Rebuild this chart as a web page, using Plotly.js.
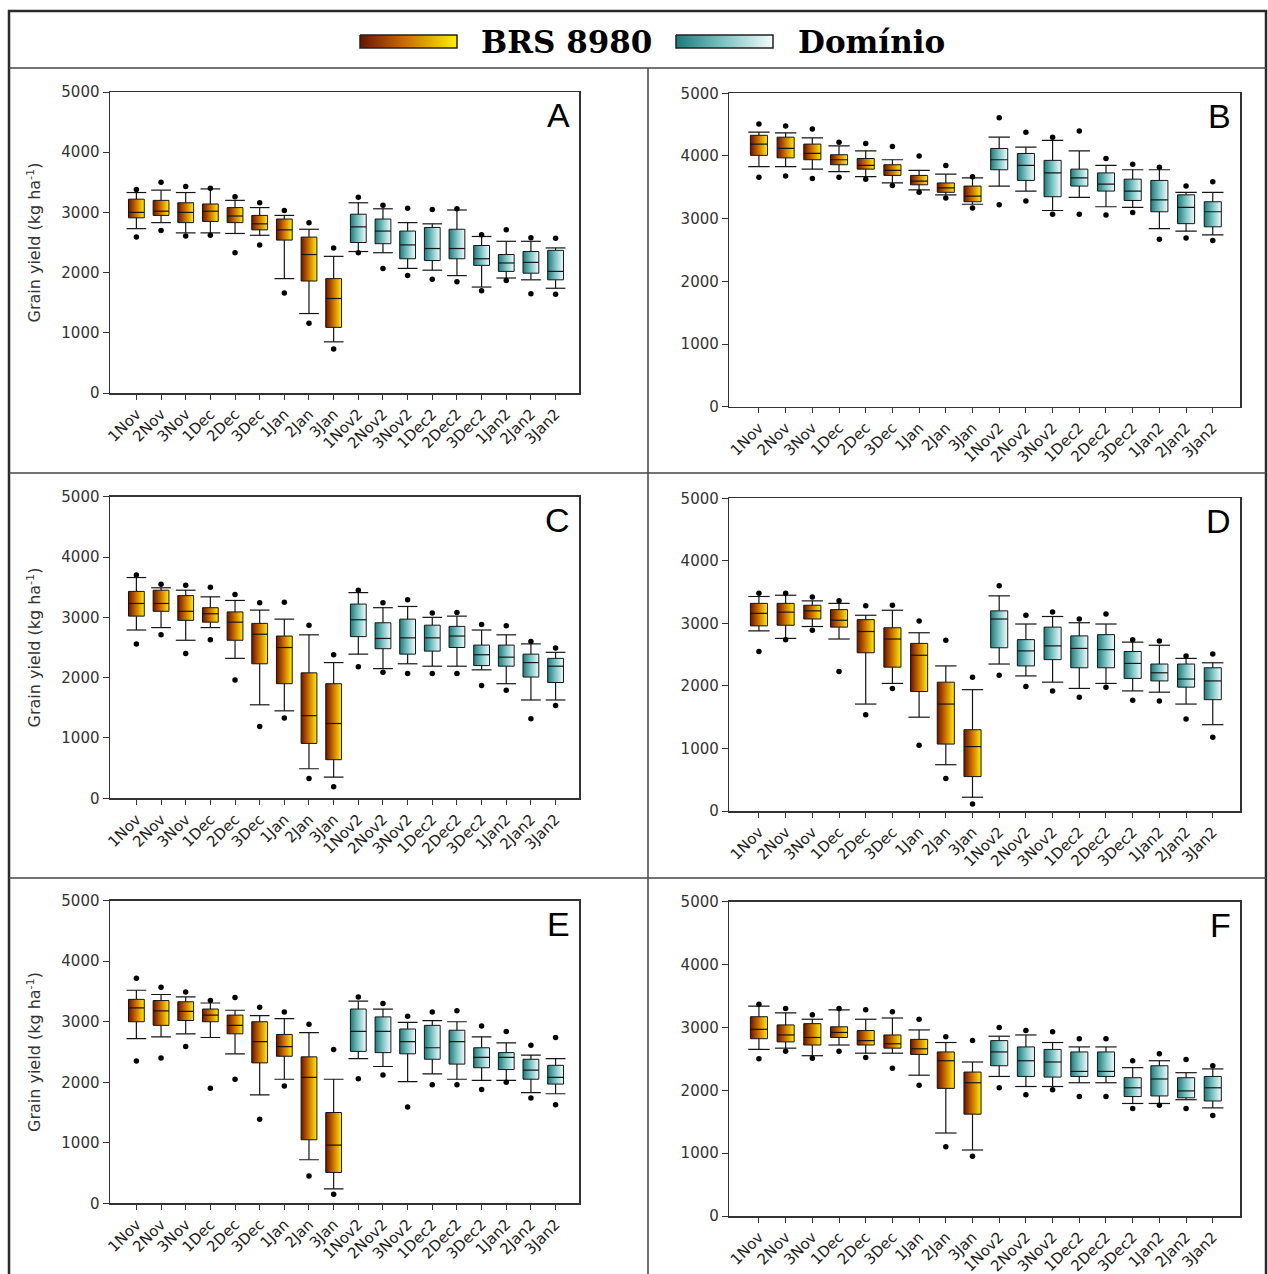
<!DOCTYPE html>
<html><head><meta charset="utf-8">
<script src="https://cdn.plot.ly/plotly-3.0.1.min.js"></script>
<style>html,body{margin:0;padding:0;background:#fff}#chart{width:1268px;height:1274px}</style>
</head><body><div id="chart"></div>
<script>
const categories = ['1Nov','2Nov','3Nov','1Dec','2Dec','3Dec','1Jan','2Jan','3Jan','1Nov2','2Nov2','3Nov2','1Dec2','2Dec2','3Dec2','1Jan2','2Jan2','3Jan2'];
const cultivar = ['BRS 8980','BRS 8980','BRS 8980','BRS 8980','BRS 8980','BRS 8980','BRS 8980','BRS 8980','BRS 8980','Domínio','Domínio','Domínio','Domínio','Domínio','Domínio','Domínio','Domínio','Domínio'];
const seriesNames = ['BRS 8980','Domínio'];
const yTicks = [0,1000,2000,3000,4000,5000];

// Panel A
const A_p95 = [3380,3500,3430,3400,3260,3160,3030,2830,2410, 3250,3120,3070,3050,3060,2630,2710,2580,2570];
const A_p90 = [3330,3370,3330,3390,3200,3080,2950,2720,2270, 3160,3060,2830,2810,3040,2600,2520,2520,2410];
const A_q3  = [3220,3200,3160,3140,3080,2950,2890,2590,1900, 2970,2890,2690,2750,2720,2450,2300,2350,2370];
const A_med = [3000,3020,3000,3020,2940,2810,2710,2300,1570, 2760,2690,2460,2400,2400,2230,2160,2170,2020];
const A_q1  = [2910,2950,2830,2850,2830,2710,2540,1860,1090, 2500,2480,2230,2200,2230,2120,2020,1990,1880];
const A_p10 = [2730,2830,2660,2660,2650,2620,1900,1320,850, 2350,2330,2070,2040,1950,1760,1910,1880,1740];
const A_p5  = [2590,2700,2610,2620,2330,2460,1660,1160,730, 2330,2070,1950,1890,1850,1700,1870,1650,1640];
// Panel B
const B_p95 = [4510,4480,4430,4220,4200,4150,4000,3850,3670, 4610,4380,4300,4400,3960,3870,3820,3520,3590];
const B_p90 = [4380,4370,4290,4160,4080,3940,3770,3710,3650, 4300,4140,4250,4080,3850,3780,3780,3420,3420];
const B_q3  = [4330,4300,4190,4020,3960,3860,3690,3570,3520, 4120,4040,3930,3790,3730,3630,3610,3380,3270];
const B_med = [4190,4120,4040,3940,3850,3770,3600,3490,3360, 3940,3850,3730,3650,3550,3440,3300,3180,3110];
const B_q1  = [4010,3970,3940,3860,3790,3690,3540,3420,3270, 3780,3610,3350,3520,3440,3290,3110,2920,2870];
const B_p10 = [3830,3830,3790,3750,3670,3570,3460,3380,3230, 3520,3440,3130,3340,3190,3180,2840,2800,2740];
const B_p5  = [3660,3680,3640,3660,3630,3530,3420,3330,3170, 3220,3280,3070,3070,3060,3100,2670,2690,2650];
// Panel C
const C_p95 = [3700,3550,3530,3500,3380,3240,3250,2870,2380, 3450,3240,3290,3070,3080,2880,2860,2600,2490];
const C_p90 = [3660,3490,3450,3340,3280,3120,2970,2710,2250, 3410,3160,3180,3000,3020,2790,2710,2560,2420];
const C_q3  = [3430,3450,3360,3160,3090,2900,2690,2080,1900, 3220,2910,2970,2870,2850,2540,2540,2390,2320];
const C_med = [3230,3230,3100,3060,2920,2720,2500,1370,1240, 2960,2650,2660,2660,2690,2380,2340,2250,2190];
const C_q1  = [3020,3100,2950,2920,2620,2230,1900,910,640, 2680,2480,2390,2440,2500,2200,2190,2010,1920];
const C_p10 = [2790,2830,2620,2830,2320,1550,1450,490,350, 2390,2150,2230,2190,2190,2130,1900,1630,1630];
const C_p5  = [2560,2710,2400,2630,1960,1190,1330,330,190, 2180,2090,2070,2070,2070,1870,1790,1320,1540];
// Panel D
const D_p95 = [3480,3480,3420,3360,3280,3290,3040,2730,2140, 3600,3130,3180,3070,3150,2740,2720,2480,2510];
const D_p90 = [3430,3450,3360,3320,3130,3210,2850,2320,1940, 3440,2990,3110,3010,2990,2700,2650,2440,2370];
const D_q3  = [3320,3320,3290,3220,3060,2930,2680,2060,1300, 3200,2740,2940,2800,2820,2550,2350,2350,2290];
const D_med = [3160,3180,3200,3050,2870,2750,2490,1710,1030, 3070,2560,2640,2600,2580,2360,2210,2110,2080];
const D_q1  = [2960,2970,3070,2940,2530,2300,1910,1070,550, 2610,2320,2420,2290,2290,2120,2080,1980,1780];
const D_p10 = [2880,2760,2950,2750,1710,2040,1500,740,220, 2350,2160,2060,1960,2040,1920,1900,1710,1380];
const D_p5  = [2550,2740,2890,2230,1540,1960,1050,520,110, 2170,1990,1920,1820,1980,1770,1760,1470,1180];
// Panel E
const E_p95 = [3720,3570,3490,3350,3400,3240,3160,2960,2540, 3410,3300,3090,3160,3180,2930,2840,2610,2740];
const E_p90 = [3520,3450,3410,3310,3190,3100,3050,2820,2050, 3340,3210,2990,3020,3000,2750,2650,2450,2390];
const E_q3  = [3370,3350,3330,3210,3110,3000,2790,2420,1500, 3210,3080,2880,2940,2860,2570,2490,2380,2280];
const E_med = [3230,3180,3170,3110,2940,2670,2590,2080,960, 2840,2840,2670,2570,2670,2410,2410,2200,2080];
const E_q1  = [3000,2940,3020,3000,2800,2320,2430,1050,510, 2510,2490,2470,2380,2300,2240,2210,2050,1970];
const E_p10 = [2720,2750,2800,2740,2470,1790,2050,720,240, 2390,2260,2010,2140,2050,2030,2030,1830,1810];
const E_p5  = [2350,2400,2590,1900,2050,1390,1940,450,150, 2060,2120,1590,1960,1960,1880,2000,1740,1630];
// Panel F
const F_p95 = [3370,3300,3200,3300,3280,3250,3130,2850,2790, 3000,2950,2930,2820,2820,2470,2580,2490,2390];
const F_p90 = [3340,3230,3130,3280,3130,3150,2960,2760,2450, 2860,2880,2760,2690,2690,2360,2470,2280,2340];
const F_q3  = [3170,3040,3060,3010,2950,2880,2810,2610,2290, 2790,2690,2650,2610,2610,2200,2390,2200,2220];
const F_med = [2970,2880,2840,2920,2790,2740,2660,2470,2120, 2610,2470,2450,2300,2300,2040,2180,1990,2040];
const F_q1  = [2820,2770,2720,2840,2720,2670,2570,2030,1620, 2390,2220,2210,2220,2220,1900,1910,1880,1830];
const F_p10 = [2650,2670,2550,2720,2590,2590,2240,1320,1050, 2220,2060,2060,2120,2120,1790,1790,1850,1720];
const F_p5  = [2500,2620,2510,2620,2520,2350,2080,1100,950, 2040,1930,2010,1900,1900,1710,1760,1710,1600];

const panels = [
  {label:'A', p95:A_p95, p90:A_p90, q3:A_q3, med:A_med, q1:A_q1, p10:A_p10, p5:A_p5},
  {label:'B', p95:B_p95, p90:B_p90, q3:B_q3, med:B_med, q1:B_q1, p10:B_p10, p5:B_p5},
  {label:'C', p95:C_p95, p90:C_p90, q3:C_q3, med:C_med, q1:C_q1, p10:C_p10, p5:C_p5},
  {label:'D', p95:D_p95, p90:D_p90, q3:D_q3, med:D_med, q1:D_q1, p10:D_p10, p5:D_p5},
  {label:'E', p95:E_p95, p90:E_p90, q3:E_q3, med:E_med, q1:E_q1, p10:E_p10, p5:E_p5},
  {label:'F', p95:F_p95, p90:F_p90, q3:F_q3, med:F_med, q1:F_q1, p10:F_p10, p5:F_p5}
];

// ---- styles / layout geometry (pixels of the 1268x1274 page) ----
const W = 1268, H = 1274;
const SCALES = {
  'BRS 8980': [[0,'#6a1300'],[0.45,'#c86a00'],[1,'#fff000']],
  'Domínio':  [[0,'#1d7a7a'],[0.5,'#80c5c5'],[1,'#f4fcfc']]
};
const BOX_HALF = 0.32, CAP_HALF = 0.40;
const boxes = [ // plot-area pixel boxes: [left, right, top, bottom]
  [110,579,92,393],[729.3,1240,93.3,406.7],
  [110,579,496.7,798.3],[729.3,1240,498.3,811],
  [110,579,900.7,1203.3],[729.3,1240,901.7,1216]
];
const xRanges = [[-1.07,17.95],[-1.11,18.02]];
const AX = '#333';

const traces = [];
const layout = {
  width: W, height: H, margin:{l:0,r:0,t:0,b:0},
  paper_bgcolor:'#fff', plot_bgcolor:'#fff', showlegend:false,
  font:{family:'DejaVu Sans', color:'#222'},
  shapes:[], annotations:[]
};

panels.forEach((p, k) => {
  const n = k + 1;
  const xa = 'x' + (n === 1 ? '' : n), ya = 'y' + (n === 1 ? '' : n);
  const b = boxes[k];
  const left = (k % 2 === 0);
  const xr = xRanges[k % 2];
  const idx = categories.map((c, i) => i);

  // box bodies with horizontal gradient
  idx.forEach(i => {
    traces.push({
      type:'scatter', mode:'lines', xaxis:xa, yaxis:ya, hoverinfo:'skip',
      name: cultivar[i],
      x:[i-BOX_HALF, i+BOX_HALF, i+BOX_HALF, i-BOX_HALF, i-BOX_HALF],
      y:[p.q1[i], p.q1[i], p.q3[i], p.q3[i], p.q1[i]],
      fill:'toself', fillgradient:{type:'horizontal', colorscale:SCALES[cultivar[i]]},
      line:{color:'#151515', width:1}
    });
  });
  // whiskers, caps, medians
  const lx = [], ly = [];
  idx.forEach(i => {
    lx.push(i, i, null, i-CAP_HALF, i+CAP_HALF, null, i, i, null, i-CAP_HALF, i+CAP_HALF, null, i-BOX_HALF, i+BOX_HALF, null);
    ly.push(p.q3[i], p.p90[i], null, p.p90[i], p.p90[i], null, p.q1[i], p.p10[i], null, p.p10[i], p.p10[i], null, p.med[i], p.med[i], null);
  });
  traces.push({type:'scatter', mode:'lines', xaxis:xa, yaxis:ya, hoverinfo:'skip',
    x:lx, y:ly, line:{color:'#151515', width:1.2}, connectgaps:false});
  // 5th / 95th percentile dots
  traces.push({type:'scatter', mode:'markers', xaxis:xa, yaxis:ya,
    x: idx.concat(idx), y: p.p95.concat(p.p5),
    marker:{color:'#000', size:5.5}});

  layout['xaxis' + (n === 1 ? '' : n)] = {
    domain:[b[0]/W, b[1]/W], anchor:ya, range:xr,
    tickmode:'array', tickvals:idx, ticktext:categories, tickangle:-45,
    ticks:'outside', ticklen:5, tickcolor:AX, tickwidth:1,
    showline:true, linecolor:AX, linewidth:1.5, mirror:true,
    showgrid:false, zeroline:false, fixedrange:true,
    tickfont:{family:'DejaVu Sans', size:15, color:'#222'}
  };
  const yax = {
    domain:[1 - b[3]/H, 1 - b[2]/H], anchor:xa, range:[0,5000],
    tickmode:'array', tickvals:yTicks, ticktext:yTicks.map(String),
    ticks:'outside', ticklen:6, tickcolor:AX, tickwidth:1,
    showline:true, linecolor:AX, linewidth:1.5, mirror:true,
    showgrid:false, zeroline:false, fixedrange:true,
    tickfont:{family:'DejaVu Sans', size:15, color:'#333'}
  };
  if (left) {
    yax.title = {text:'Grain yield (kg ha<sup>-1</sup>)', font:{family:'DejaVu Sans', size:16, color:'#333'}, standoff:16};
  }
  layout['yaxis' + (n === 1 ? '' : n)] = yax;

  layout.annotations.push({
    xref: xa + ' domain', yref: ya + ' domain', x:1, y:1, xanchor:'right', yanchor:'top',
    xshift:-7, yshift:-2, showarrow:false, text:p.label,
    font:{family:'Liberation Sans', size:34, color:'#000'}
  });
});

// legend row on a hidden axis (pixel-like units)
layout.xaxis7 = {domain:[0,1], range:[0,W], visible:false, fixedrange:true, anchor:'y7'};
layout.yaxis7 = {domain:[1-68/H, 1-11/H], range:[68,11], visible:false, fixedrange:true, anchor:'x7'};
const legendKeys = [{x0:360, x1:457, tx:479}, {x0:676, x1:773, tx:796}];
seriesNames.forEach((s, j) => {
  const kx = legendKeys[j];
  traces.push({type:'scatter', mode:'lines', xaxis:'x7', yaxis:'y7', hoverinfo:'skip', name:s,
    x:[kx.x0, kx.x1, kx.x1, kx.x0, kx.x0], y:[35,35,48,48,35],
    fill:'toself', fillgradient:{type:'horizontal', colorscale:SCALES[s]},
    line:{color:'#222', width:1.5}});
  layout.annotations.push({xref:'paper', yref:'paper', x:kx.tx/W, y:1-42/H, xanchor:'left', yanchor:'middle',
    showarrow:false, text:'<b>'+s+'</b>', font:{family:'DejaVu Serif', size:31, color:'#000'}});
});

// frame lines
const ln = (x0,y0,x1,y1,w,c) => ({type:'line', xref:'paper', yref:'paper', x0:x0/W, x1:x1/W, y0:1-y0/H, y1:1-y1/H, line:{color:c, width:w}});
layout.shapes.push(
  {type:'rect', xref:'paper', yref:'paper', x0:9/W, x1:1266/W, y0:-0.02, y1:1-11/H, line:{color:'#2a2a2a', width:2.5}},
  ln(9,68,1266,68,1.5,'#444'), ln(9,473,1266,473,1.5,'#444'), ln(9,878,1266,878,1.5,'#444'),
  ln(648,68,648,1280,1.5,'#444')
);

Plotly.newPlot('chart', traces, layout, {staticPlot:true, displayModeBar:false});
</script></body></html>
